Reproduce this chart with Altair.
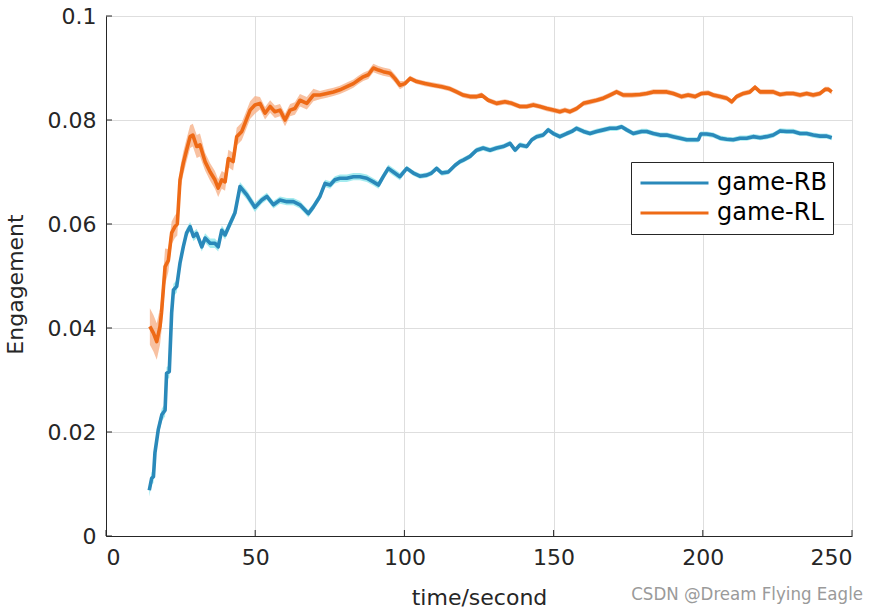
import altair as alt
import pandas as pd

# ---------------- data ----------------
rb_x = [14.5, 15.3, 15.9, 16.4, 17.5, 18.7, 19.8, 20.3, 21.2, 22.0, 22.6, 23.7, 24.8, 25.9, 27.0,
        28.2, 29.3, 30.4, 32.1, 33.2, 34.9, 36.5, 37.6, 38.8, 39.9, 41.6, 43.2, 44.9, 47.2, 49.9,
        52.2, 53.9, 56.1, 58.3, 60.6, 62.8, 65.0, 67.8, 69.5, 71.7, 73.4, 75.1, 76.7, 78.4, 80.7,
        82.9, 85.1, 87.4, 89.6, 91.3, 92.9, 94.6, 96.3, 98.5, 100.8, 103.0, 105.2, 107.5, 109.1,
        110.8, 112.5, 114.7, 117.0, 118.6, 119.7, 122.0, 124.2, 126.4, 128.7, 130.9, 133.1, 135.4,
        137.1, 138.7, 141.0, 142.7, 144.3, 146.5, 148.2, 149.9, 152.1, 154.4, 156.1, 157.7, 160.0,
        162.2, 164.4, 166.7, 168.9, 171.1, 172.8, 174.5, 176.7, 179.5, 181.2, 183.4, 185.7, 187.9,
        190.1, 192.4, 194.6, 196.8, 198.5, 199.3, 201.3, 203.5, 205.8, 208.0, 210.2, 212.5, 214.7,
        216.9, 219.2, 221.4, 223.6, 225.9, 228.1, 230.3, 232.6, 234.8, 237.0, 239.3, 241.5, 243.2]
rb_y = [0.0088, 0.0111, 0.0114, 0.0160, 0.0204, 0.0233, 0.0242, 0.0313, 0.0316, 0.0429, 0.0473,
        0.0480, 0.0525, 0.0556, 0.0583, 0.0595, 0.0576, 0.0582, 0.0556, 0.0573, 0.0563, 0.0563,
        0.0556, 0.0588, 0.0579, 0.0601, 0.0621, 0.0672, 0.0656, 0.0632, 0.0646, 0.0653, 0.0637,
        0.0646, 0.0643, 0.0643, 0.0637, 0.0620, 0.0633, 0.0653, 0.0678, 0.0675, 0.0685, 0.0688,
        0.0688, 0.0691, 0.0691, 0.0688, 0.0681, 0.0675, 0.0691, 0.0707, 0.0700, 0.0691, 0.0707,
        0.0698, 0.0692, 0.0694, 0.0698, 0.0707, 0.0698, 0.0700, 0.0713, 0.0720, 0.0723, 0.0730,
        0.0742, 0.0746, 0.0742, 0.0746, 0.0749, 0.0755, 0.0742, 0.0752, 0.0749, 0.0762, 0.0768,
        0.0771, 0.0781, 0.0774, 0.0768, 0.0774, 0.0778, 0.0784, 0.0778, 0.0774, 0.0778, 0.0781,
        0.0784, 0.0784, 0.0787, 0.0781, 0.0774, 0.0778, 0.0778, 0.0774, 0.0771, 0.0771, 0.0768,
        0.0765, 0.0762, 0.0762, 0.0762, 0.0773, 0.0773, 0.0771, 0.0765, 0.0763, 0.0762, 0.0765,
        0.0765, 0.0768, 0.0766, 0.0768, 0.0771, 0.0779, 0.0778, 0.0778, 0.0774, 0.0774, 0.0771,
        0.0769, 0.0769, 0.0766]

rl_x = [14.7, 15.9, 17.0, 18.1, 18.6, 19.8, 20.9, 22.0, 23.1, 23.9, 24.8, 25.9, 27.0, 28.2, 29.1,
        30.4, 31.5, 33.2, 34.9, 36.5, 37.6, 38.8, 39.9, 41.0, 42.6, 43.8, 45.5, 46.6, 48.3, 49.9,
        51.6, 53.3, 55.0, 56.6, 58.3, 60.0, 61.7, 63.3, 65.0, 67.3, 69.5, 71.7, 74.0, 76.2, 78.4,
        80.7, 82.9, 84.6, 86.2, 87.9, 89.6, 91.3, 92.9, 95.2, 96.8, 98.5, 100.2, 101.9, 104.1,
        106.9, 109.7, 112.5, 115.3, 117.5, 119.7, 122.0, 124.2, 125.9, 128.1, 130.9, 133.7, 136.0,
        138.7, 141.0, 143.2, 145.4, 147.7, 149.9, 152.1, 153.8, 155.5, 157.7, 160.0, 162.2, 164.4,
        166.7, 168.9, 171.1, 173.4, 176.2, 179.0, 181.2, 183.4, 185.7, 187.9, 190.1, 192.9, 195.1,
        197.4, 199.6, 201.8, 203.5, 205.8, 208.0, 209.7, 211.3, 213.6, 215.8, 217.5, 219.2, 221.4,
        223.6, 225.9, 228.1, 230.3, 232.6, 234.8, 237.0, 239.3, 241.0, 242.1, 243.2]
rl_y = [0.0403, 0.0390, 0.0374, 0.0403, 0.0429, 0.0518, 0.0530, 0.0583, 0.0595, 0.0600, 0.0685,
        0.0717, 0.0742, 0.0768, 0.0771, 0.0749, 0.0752, 0.0720, 0.0700, 0.0685, 0.0669, 0.0685,
        0.0681, 0.0726, 0.0720, 0.0768, 0.0778, 0.0794, 0.0819, 0.0829, 0.0832, 0.0813, 0.0826,
        0.0816, 0.0819, 0.0800, 0.0819, 0.0822, 0.0838, 0.0832, 0.0848, 0.0848, 0.0851, 0.0854,
        0.0858, 0.0864, 0.0870, 0.0877, 0.0883, 0.0887, 0.0900, 0.0896, 0.0893, 0.0890, 0.0880,
        0.0867, 0.0870, 0.0880, 0.0874, 0.0870, 0.0867, 0.0864, 0.0860, 0.0854, 0.0848, 0.0845,
        0.0845, 0.0848, 0.0838, 0.0832, 0.0835, 0.0832, 0.0826, 0.0826, 0.0829, 0.0826, 0.0822,
        0.0819, 0.0816, 0.0819, 0.0816, 0.0822, 0.0832, 0.0835, 0.0838, 0.0842, 0.0848, 0.0854,
        0.0848, 0.0848, 0.0849, 0.0851, 0.0854, 0.0854, 0.0854, 0.0851, 0.0845, 0.0848, 0.0845,
        0.0851, 0.0852, 0.0848, 0.0845, 0.0842, 0.0835, 0.0845, 0.0851, 0.0854, 0.0863, 0.0854,
        0.0854, 0.0854, 0.0849, 0.0851, 0.0851, 0.0848, 0.0851, 0.0848, 0.0851, 0.0859, 0.0859,
        0.0854]

# half-width of the shaded band, estimated per x range: (up to x, half-width)
rb_band = [(25, 0.0012), (50, 0.0009), (100, 0.0007), (260, 0.0005)]
rl_band = [(20, 0.0035), (32, 0.0022), (50, 0.0017), (70, 0.0012), (100, 0.0008), (260, 0.0005)]

series_names = ["game-RB", "game-RL"]
x_ticks = [0, 50, 100, 150, 200, 250]
y_ticks = [0, 0.02, 0.04, 0.06, 0.08, 0.1]
x_title = "time/second"
y_title = "Engagement"
watermark = "CSDN @Dream Flying Eagle"

# ---------------- styling ----------------
BLUE = "#2a89ba"
ORANGE = "#ee6a16"
BLUE_BAND = "#86e4ea"
ORANGE_BAND = "#f6b28a"
AX = "#262626"
FONT = "DejaVu Sans"
W, H = 746, 520


def band_of(x, levels):
    for lim, e in levels:
        if x <= lim:
            return e
    return levels[-1][1]


def frame(xs, ys, name, levels):
    return pd.DataFrame({
        "x": xs, "y": ys, "series": name,
        "lo": [y - band_of(x, levels) for x, y in zip(xs, ys)],
        "hi": [y + band_of(x, levels) for x, y in zip(xs, ys)],
    })


df_rb = frame(rb_x, rb_y, series_names[0], rb_band)
df_rl = frame(rl_x, rl_y, series_names[1], rl_band)
df_all = pd.concat([df_rb, df_rl], ignore_index=True)

xs = alt.Scale(domain=[0, 250], nice=False)
ys = alt.Scale(domain=[0, 0.1], nice=False)

x_enc = alt.X("x:Q", scale=xs, axis=alt.Axis(values=x_ticks, title=x_title, titleY=68,
                                              titleBaseline="alphabetic"))
y_enc = alt.Y("y:Q", scale=ys, axis=alt.Axis(values=y_ticks, title=y_title, format="~g",
                                              titleX=-84, titleY=268, titleBaseline="alphabetic",
                                              titleAngle=270))

band_rb = alt.Chart(df_rb).mark_area(color=BLUE_BAND, opacity=0.75).encode(
    x=x_enc, y=alt.Y("lo:Q", scale=ys), y2="hi:Q")
band_rl = alt.Chart(df_rl).mark_area(color=ORANGE_BAND, opacity=0.8).encode(
    x=alt.X("x:Q", scale=xs), y=alt.Y("lo:Q", scale=ys), y2="hi:Q")

lines = alt.Chart(df_all).mark_line(strokeWidth=3.6, strokeJoin="round").encode(
    x=alt.X("x:Q", scale=xs),
    y=y_enc,
    color=alt.Color("series:N",
                    scale=alt.Scale(domain=series_names, range=[BLUE, ORANGE]),
                    legend=alt.Legend(title=None, orient="none", legendX=525, legendY=146,
                                      symbolType="stroke", symbolSize=4624,
                                      symbolStrokeWidth=3, labelFont=FONT, labelFontSize=24,
                                      labelColor="#000000", strokeColor=AX, fillColor="white",
                                      padding=6, rowPadding=0, clipHeight=30,
                                      symbolOffset=2, labelOffset=7)),
    detail="series:N",
)

xt = pd.DataFrame({"t": x_ticks})
yt = pd.DataFrame({"t": y_ticks})
xticks = alt.Chart(xt).mark_rule(color=AX, strokeWidth=1).encode(
    x=alt.X("t:Q", scale=xs), y=alt.value(H), y2=alt.value(H - 6))
yticks = alt.Chart(yt).mark_rule(color=AX, strokeWidth=1).encode(
    y=alt.Y("t:Q", scale=ys), x=alt.value(0), x2=alt.value(6))

wm = alt.Chart(pd.DataFrame({"t": [watermark]})).mark_text(
    align="right", baseline="alphabetic", font="DejaVu Sans Condensed, Liberation Sans",
    fontSize=18.5, color="#9a9a9a").encode(text="t:N", x=alt.value(757), y=alt.value(584))

chart = alt.layer(band_rb, band_rl, lines, xticks, yticks, wm).properties(
    width=W, height=H,
    autosize=alt.AutoSizeParams(type="none"),
    padding={"left": 106, "top": 16, "right": 25, "bottom": 73},
    background="white",
).configure_view(stroke=None).configure_axis(
    domainColor=AX, domainWidth=1, tickSize=0, labelFont=FONT, labelFontSize=22,
    labelColor=AX, titleFont=FONT, titleFontSize=22, titleColor=AX, titleFontWeight="normal",
    gridColor="#dedede", gridWidth=1, labelPadding=11,
).configure_axisY(labelPadding=10)

chart.save("out.html", embed_options={"renderer": "svg", "actions": False})
